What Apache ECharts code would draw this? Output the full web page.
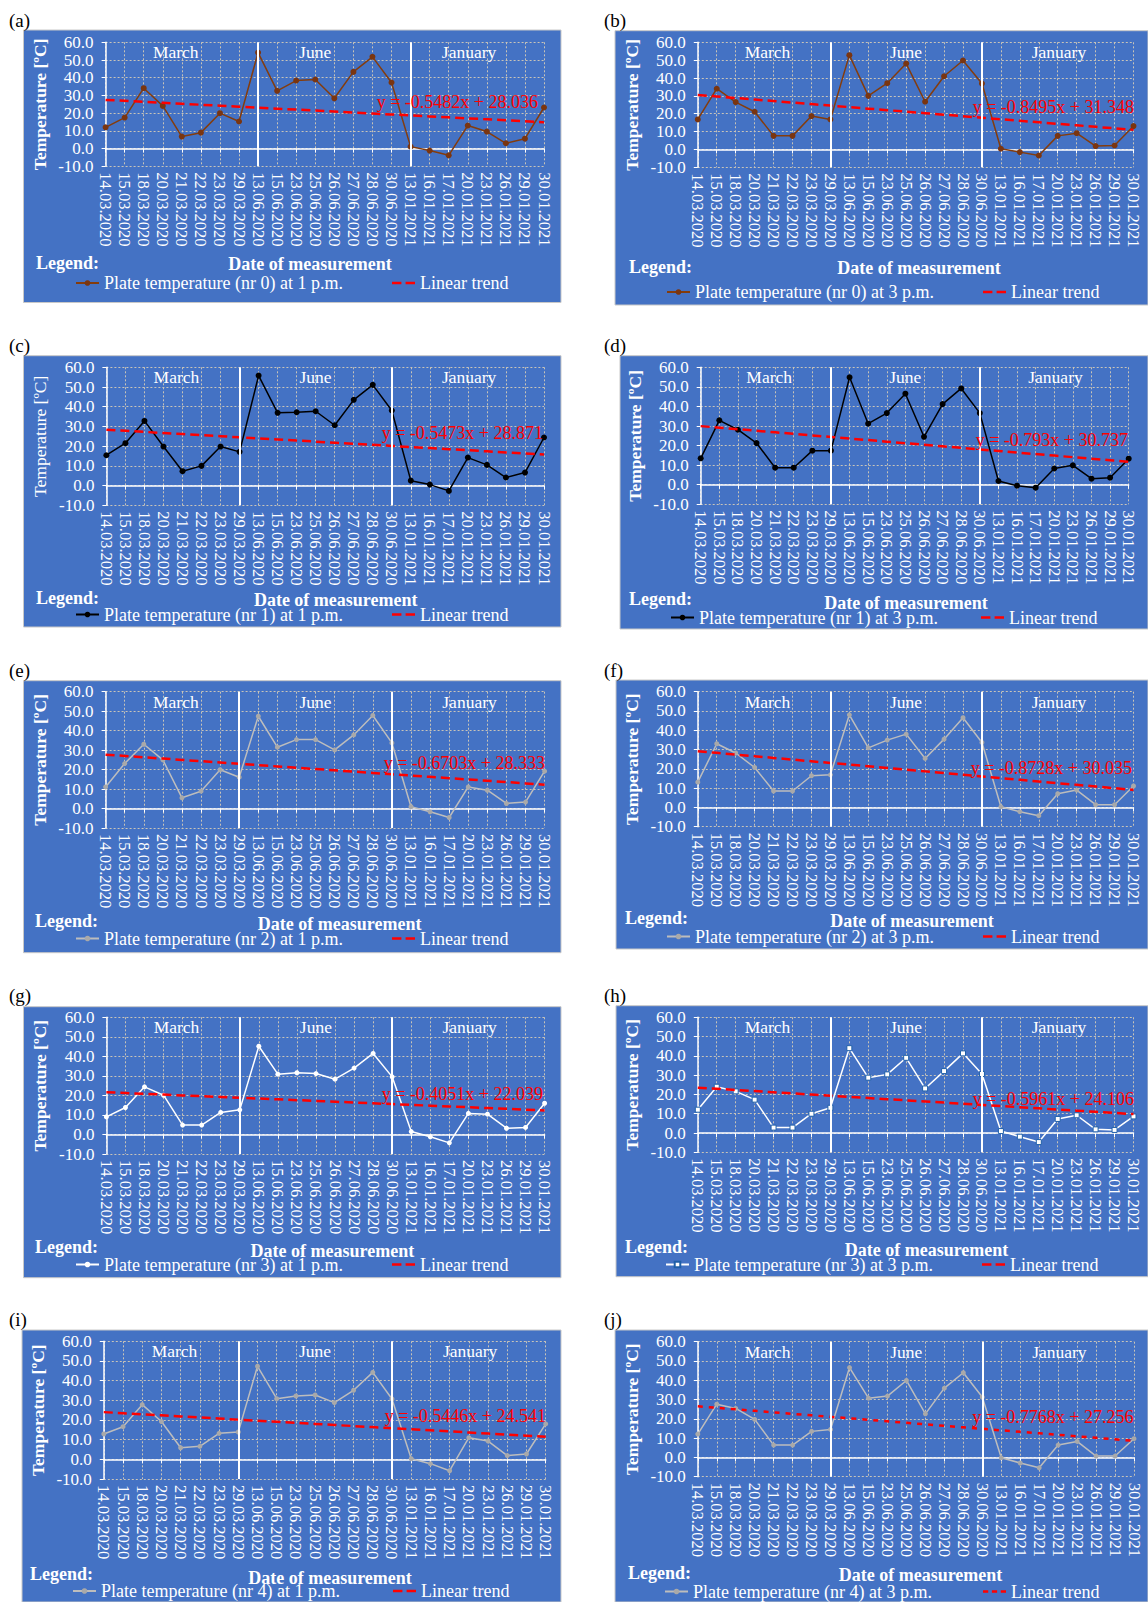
<!DOCTYPE html>
<html>
<head>
<meta charset="utf-8">
<script src="https://cdn.jsdelivr.net/npm/echarts@6/dist/echarts.min.js"></script>
<style>
  html, body { margin: 0; padding: 0; background: #ffffff; }
  #chart { width: 1148px; height: 1602px; }
</style>
</head>
<body>
<div id="chart"></div>
<script>
// Measurement dates (category axis)
const dates = ['14.03.2020','15.03.2020','18.03.2020','20.03.2020','21.03.2020','22.03.2020','23.03.2020','29.03.2020',
               '13.06.2020','15.06.2020','23.06.2020','25.06.2020','26.06.2020','27.06.2020','28.06.2020','30.06.2020',
               '13.01.2021','16.01.2021','17.01.2021','20.01.2021','23.01.2021','26.01.2021','29.01.2021','30.01.2021'];

// Plate temperatures [ºC]
const plate0_1pm = [12.0,17.5,34.1,24.1,6.8,9.0,20.0,15.3,54.2,32.6,38.4,39.0,28.4,43.3,51.8,37.3,1.1,-1.1,-3.8,13.0,9.6,3.0,5.6,23.2];
const plate0_3pm = [16.8,34.0,26.5,21.1,7.6,7.6,18.7,16.8,52.8,30.0,37.1,48.1,26.7,41.0,49.8,36.9,0.4,-1.5,-3.4,7.6,9.1,1.9,2.2,13.1];
const plate1_1pm = [15.4,21.5,32.8,19.8,7.3,10.0,19.8,17.1,55.8,36.9,37.2,37.7,30.6,43.5,51.1,38.1,2.5,0.5,-2.7,14.2,10.5,4.1,6.6,24.4];
const plate1_3pm = [13.5,32.9,28.1,21.3,8.7,8.7,17.4,17.4,54.9,31.2,36.6,46.5,24.5,41.2,49.2,36.6,1.9,-0.5,-1.5,8.3,9.9,3.1,3.6,13.3];
const plate2_1pm = [11.1,23.1,33.0,25.0,5.5,8.9,19.9,16.1,47.4,31.5,35.4,35.4,30.1,37.8,47.8,33.7,0.9,-1.7,-4.6,11.1,9.4,2.6,3.3,19.2];
const plate2_3pm = [13.1,33.0,28.2,20.7,8.5,8.5,16.4,16.9,48.0,30.9,34.9,38.0,25.4,35.4,46.5,33.7,0.3,-2.2,-4.3,7.1,9.0,1.4,1.4,11.1];
const plate3_1pm = [9.0,13.8,24.4,20.1,4.8,4.8,11.3,12.6,45.2,30.9,31.6,31.2,28.3,34.0,41.5,29.5,1.5,-1.2,-4.3,10.8,10.4,3.2,3.6,16.0];
const plate3_3pm = [12.1,24.0,21.6,17.3,2.8,2.8,10.0,13.1,44.0,28.7,30.4,39.0,23.1,32.1,41.3,30.6,1.0,-1.9,-4.7,7.3,9.2,1.9,1.6,8.6];
const plate4_1pm = [12.9,16.6,27.8,19.2,5.9,6.6,13.2,13.9,47.3,30.8,32.2,32.7,28.8,35.1,44.2,30.7,0.3,-2.2,-5.8,11.0,9.3,1.9,2.7,18.0];
const plate4_3pm = [12.1,27.6,25.4,19.7,6.4,6.4,13.5,14.5,46.6,30.7,31.8,39.9,22.6,35.9,43.9,31.3,-0.2,-2.9,-5.4,6.4,8.3,0.7,0.7,9.7];

// Linear trend coefficients (y = slope * x + intercept, x = 1..24)
const trendSlopes     = [-0.5482, -0.8495, -0.5473, -0.793, -0.6703, -0.8728, -0.4051, -0.5961, -0.5446, -0.7768];
const trendIntercepts = [28.036, 31.348, 28.871, 30.737, 28.333, 30.035, 22.039, 24.106, 24.541, 27.256];

const panelLetters = ['(a)','(b)','(c)','(d)','(e)','(f)','(g)','(h)','(i)','(j)'];
const seriesNames = [
  'Plate temperature (nr 0) at 1 p.m.', 'Plate temperature (nr 0) at 3 p.m.',
  'Plate temperature (nr 1) at 1 p.m.', 'Plate temperature (nr 1) at 3 p.m.',
  'Plate temperature (nr 2) at 1 p.m.', 'Plate temperature (nr 2) at 3 p.m.',
  'Plate temperature (nr 3) at 1 p.m.', 'Plate temperature (nr 3) at 3 p.m.',
  'Plate temperature (nr 4) at 1 p.m.', 'Plate temperature (nr 4) at 3 p.m.'
];
const seasonLabels = ['March', 'June', 'January'];
const separatorDates = [
  ['13.06.2020','13.01.2021'], ['29.03.2020','30.06.2020'],
  ['29.03.2020','30.06.2020'], ['29.03.2020','30.06.2020'],
  ['29.03.2020','30.06.2020'], ['29.03.2020','30.06.2020'],
  ['29.03.2020','30.06.2020'], ['29.03.2020','30.06.2020'],
  ['29.03.2020','30.06.2020'], ['29.03.2020','30.06.2020']
];
const yTitle = 'Temperature [ºC]';
const xTitle = 'Date of measurement';
const trendName = 'Linear trend';

const panelValues = [plate0_1pm, plate0_3pm, plate1_1pm, plate1_3pm, plate2_1pm,
                     plate2_3pm, plate3_1pm, plate3_3pm, plate4_1pm, plate4_3pm];

// Page layout of the ten panels (pixels)
const layout = [
  {box:[23.5,30,537.5,272.5],  plot:[105.6,42.3,544,166.3],     letter:[9,20],     lbl:[36,263],    dom:[310,264],    leg:[75,392,285],    eq:[538,101.7]},
  {box:[615,30.7,533,274.3],   plot:[697.8,42.3,1133.5,167.3],  letter:[604,20],   lbl:[629,267],   dom:[919,268],    leg:[666,983,294],   eq:[1134,107]},
  {box:[23.5,355.7,537.5,271.3], plot:[106.4,367.3,544,505.3],  letter:[9,345],    lbl:[36,597.7],  dom:[335.7,599.5], leg:[75,392,616.5], eq:[543,432.7]},
  {box:[620,355.7,528,273.3],  plot:[700.7,367.3,1128.7,504.3], letter:[604,345],  lbl:[629,599],   dom:[906,603],    leg:[670,981,619.5], eq:[1128,440]},
  {box:[23.5,680.7,537.5,272], plot:[105.6,691.7,544.6,828],    letter:[9,670],    lbl:[35,920.7],  dom:[339.6,924],  leg:[75,392,940.5],  eq:[545,763]},
  {box:[616,680,532,269],      plot:[697.8,691.7,1133.5,826.7], letter:[604,670],  lbl:[625,918],   dom:[912,921],    leg:[666,983,938.5], eq:[1132,768]},
  {box:[23.5,1006.7,537.5,271], plot:[106.4,1017.3,544.6,1154], letter:[9,995],    lbl:[35,1246.7], dom:[332.4,1251], leg:[75,392,1266.5], eq:[543,1094.3]},
  {box:[616,1005.7,532,271],   plot:[697.8,1017.3,1133.5,1152.3], letter:[604,995], lbl:[625,1246.7], dom:[926.5,1250], leg:[665,982,1266.5], eq:[1134,1099]},
  {box:[22,1330,539,272],      plot:[103.8,1341.3,545.7,1479],  letter:[9,1319],   lbl:[30,1574],   dom:[330,1578],   leg:[72,393,1593],   eq:[546,1416]},
  {box:[615,1330,533,272],     plot:[697.8,1341.7,1134,1476.7], letter:[604,1319], lbl:[628,1572.7], dom:[920.5,1575], leg:[664,983,1593.5], eq:[1133.5,1416.7]}
];

// Series styling per panel
const lineColors   = ['#843C0C','#843C0C','#000000','#000000','#BDBDBD','#BDBDBD','#FFFFFF','#FFFFFF','#BDBDBD','#BDBDBD'];
const markerColors = ['#7A3510','#7A3510','#000000','#000000','#A9A9A9','#A9A9A9','#FFFFFF','#FFFFFF','#A9A9A9','#A9A9A9'];
const markerShapes = ['circle','circle','circle','circle','circle','circle','circle','rect','circle','circle'];
const markerSizes  = [6,6,6,6,5,5,5,5,5,5];
const titleWeights = ['bold','bold','normal','bold','bold','bold','bold','bold','bold','bold'];
const seasonPos = [0.16, 0.478, 0.829];

// dashed legend glyphs for the trend line
const dashIconLong  = 'path://M0,0h9v2.5h-9z M13,0h9v2.5h-9z';
const dashIconShort = 'path://M0,0h5v2.5h-5z M8.5,0h5v2.5h-5z M17,0h5v2.5h-5z';

const FONT = '"Liberation Serif", "Times New Roman", serif';
const BG = '#4472C4';
const GRID_LINE = '#C9C4B8';

const grids = [], xAxes = [], yAxes = [], series = [], legends = [], graphics = [];

panelValues.forEach((values, k) => {
  const L = layout[k];
  const [pl, pt, pr, pb] = L.plot;

  // panel background
  graphics.push({
    type: 'rect', z: -20, silent: true,
    shape: { x: L.box[0], y: L.box[1], width: L.box[2], height: L.box[3] },
    style: { fill: BG, stroke: '#C8C8C8', lineWidth: 1 }
  });
  graphics.push({
    type: 'text', x: L.letter[0], y: L.letter[1], silent: true,
    style: { text: panelLetters[k], fill: '#000', font: '19px ' + FONT, verticalAlign: 'middle', align: 'left' }
  });
  seasonLabels.forEach((s, i) => {
    graphics.push({
      type: 'text', x: pl + seasonPos[i] * (pr - pl), y: pt + 10, silent: true, z: 10,
      style: { text: s, fill: '#fff', font: '17.5px ' + FONT, align: 'center', verticalAlign: 'middle' }
    });
  });
  graphics.push({
    type: 'text', x: L.lbl[0], y: L.lbl[1], silent: true,
    style: { text: 'Legend:', fill: '#fff', font: 'bold 18px ' + FONT, align: 'left', verticalAlign: 'middle' }
  });
  graphics.push({
    type: 'text', x: L.dom[0], y: L.dom[1], silent: true,
    style: { text: xTitle, fill: '#fff', font: 'bold 18px ' + FONT, align: 'center', verticalAlign: 'middle' }
  });
  graphics.push({
    type: 'text', x: L.eq[0], y: L.eq[1], silent: true, z: 20,
    style: { text: 'y = ' + trendSlopes[k] + 'x + ' + trendIntercepts[k], fill: '#FF0000',
             font: '18px ' + FONT, align: 'right', verticalAlign: 'middle' }
  });

  grids.push({
    left: pl, top: pt, width: pr - pl, height: pb - pt,
    containLabel: false, outerBoundsMode: 'none', show: false
  });

  xAxes.push({
    gridIndex: k, type: 'category', data: dates, boundaryGap: false,
    axisLine: { show: true, lineStyle: { color: '#fff', width: 1.5 } },
    axisTick: { show: true, interval: 0, length: 4, lineStyle: { color: '#fff' } },
    axisLabel: { interval: 0, rotate: -90, color: '#fff', fontFamily: FONT, fontSize: 16.5, margin: 6,
                 showMinLabel: true, showMaxLabel: true, hideOverlap: false },
    splitLine: { show: true, interval: 0, lineStyle: { color: GRID_LINE, type: [2, 2], width: 1 } }
  });

  yAxes.push({
    gridIndex: k, type: 'value', min: -10, max: 60, interval: 10,
    axisLine: { show: true, lineStyle: { color: '#fff', width: 1.5 } },
    axisTick: { show: true, length: 4, lineStyle: { color: '#fff' } },
    axisLabel: { color: '#fff', fontFamily: FONT, fontSize: 17, lineHeight: 14, margin: 12,
                 formatter: v => v.toFixed(1), showMinLabel: true, showMaxLabel: true, hideOverlap: false },
    splitLine: { show: true, lineStyle: { color: GRID_LINE, type: [2, 2], width: 1 } },
    name: yTitle, nameLocation: 'middle', nameGap: 57, nameRotate: 90,
    nameTextStyle: { color: '#fff', fontFamily: FONT, fontSize: 17.5, fontWeight: titleWeights[k] }
  });

  series.push({
    type: 'line', name: seriesNames[k], xAxisIndex: k, yAxisIndex: k, data: values,
    symbol: markerShapes[k], symbolSize: markerSizes[k], showSymbol: true,
    lineStyle: { color: lineColors[k], width: 1.5 },
    itemStyle: markerShapes[k] === 'rect'
      ? { color: '#FFFFFF', borderColor: '#1F5FA8', borderWidth: 1 }
      : { color: markerColors[k], borderWidth: 0 },
    z: 3,
    markLine: {
      silent: true, symbol: ['none', 'none'], animation: false,
      label: { show: false },
      lineStyle: { color: '#FFFFFF', type: 'solid', width: 2 },
      emphasis: { disabled: true },
      data: separatorDates[k].map(d => ({ xAxis: d }))
    }
  });

  series.push({
    type: 'line', name: trendName, xAxisIndex: k, yAxisIndex: k,
    data: dates.map((d, i) => +(trendSlopes[k] * (i + 1) + trendIntercepts[k]).toFixed(3)),
    symbol: 'none', showSymbol: false,
    lineStyle: { color: '#FF0000', width: 2.5, type: k === 9 ? [5, 6] : [9, 5] },
    itemStyle: { color: '#FF0000' },
    z: 4
  });

  const legendText = { color: '#fff', fontFamily: FONT, fontSize: 18 };
  legends.push({
    left: L.leg[0], top: L.leg[2] - 11, padding: 0, itemGap: 0,
    itemWidth: 23, itemHeight: 7, data: [seriesNames[k]], textStyle: legendText,
    selectedMode: false
  });
  legends.push({
    left: L.leg[1], top: L.leg[2] - 11, padding: 0, itemGap: 0,
    itemWidth: 23, itemHeight: 7, textStyle: legendText, selectedMode: false,
    data: [{ name: trendName, icon: k === 9 ? dashIconShort : dashIconLong,
             itemStyle: { color: '#FF0000' } }]
  });
});

const chart = echarts.init(document.getElementById('chart'), null, { renderer: 'svg', width: 1148, height: 1602 });
chart.setOption({
  animation: false,
  backgroundColor: '#ffffff',
  textStyle: { fontFamily: FONT },
  grid: grids,
  xAxis: xAxes,
  yAxis: yAxes,
  legend: legends,
  series: series,
  graphic: { elements: graphics }
});
</script>
</body>
</html>
